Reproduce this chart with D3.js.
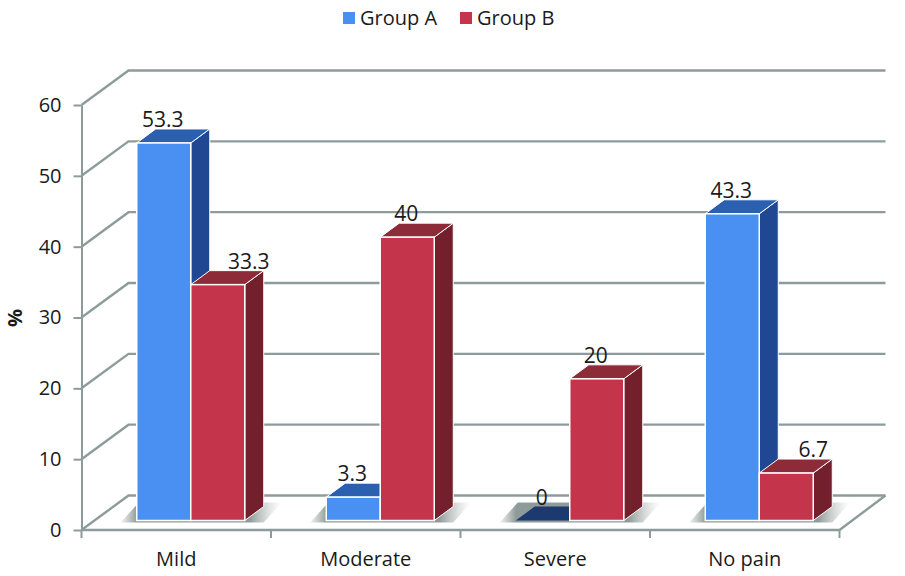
<!DOCTYPE html>
<html>
<head>
<meta charset="utf-8">
<script src="https://cdn.jsdelivr.net/npm/d3@7"></script>
<style>
  html, body { margin: 0; padding: 0; background: #fff; }
  svg { display: block; }
  text { font-family: "Open Sans", sans-serif; fill: #1a1a1a; }
</style>
</head>
<body>
<svg id="chart" width="905" height="576"></svg>
<script>
const categories = ["Mild", "Moderate", "Severe", "No pain"];
const groupA = [53.3, 3.3, 0, 43.3];
const groupB = [33.3, 40, 20, 6.7];
const yTicks = [0, 10, 20, 30, 40, 50, 60];

const svg = d3.select("#chart");

// wall / floor geometry
const left = 81.5, right = 839.5, floorY = 530, topY = 105;
const wallDx = 47, wallDy = -34.5;
// bars stand part way into the floor
const barInsetY = -9.5, barShiftX = 14.5, barDx = 19, barDy = -14, barW = 54;

const x = d3.scaleBand().domain(categories).range([left, right]);
const y = d3.scaleLinear().domain([0, 60]).range([floorY, topY]);
const barY = v => y(v) + barInsetY;

const gridColor = "#8d9c9b";

// gridlines on the side wall and back wall
yTicks.forEach(t => {
    svg.append("polyline")
        .attr("points", [[left, y(t)], [left + wallDx, y(t) + wallDy], [right + wallDx - 1, y(t) + wallDy]].join(" "))
        .attr("fill", "none")
        .attr("stroke", gridColor)
        .attr("stroke-width", 2.4);
});

// floor edges
svg.append("polyline")
    .attr("points", [[right + wallDx - 1, floorY + wallDy], [right, floorY], [left, floorY]].join(" "))
    .attr("fill", "none")
    .attr("stroke", gridColor)
    .attr("stroke-width", 2.4);

// y axis
const yAxis = svg.append("g")
    .attr("transform", `translate(${left},0)`)
    .call(d3.axisLeft(y).tickValues(yTicks).tickSize(8).tickPadding(12).tickSizeOuter(0));
yAxis.select(".domain").attr("stroke", gridColor).attr("stroke-width", 2);
yAxis.selectAll("line").attr("stroke", gridColor).attr("stroke-width", 2);
yAxis.selectAll("text").attr("font-size", 20).style("font-family", '"Open Sans", sans-serif').attr("fill", "#1a1a1a");

// x axis labels
const xAxis = svg.append("g")
    .attr("transform", `translate(0,${floorY})`)
    .call(d3.axisBottom(x).tickSize(0).tickPadding(22));
xAxis.select(".domain").remove();
xAxis.selectAll("text").attr("font-size", 20).style("font-family", '"Open Sans", sans-serif').attr("fill", "#1a1a1a");

// tick marks between the categories
d3.range(categories.length + 1).forEach(i => {
    const tx = left + i * x.bandwidth();
    svg.append("line")
        .attr("x1", tx).attr("x2", tx)
        .attr("y1", floorY).attr("y2", floorY + 8)
        .attr("stroke", gridColor)
        .attr("stroke-width", 2);
});

// soft shadow under each pair of bars
const defs = svg.append("defs");
const grad = defs.append("linearGradient").attr("id", "shadow").attr("x1", 0).attr("x2", 1).attr("y1", 0).attr("y2", 0);
grad.append("stop").attr("offset", "0%").attr("stop-color", "#a7b0ad").attr("stop-opacity", 0.2);
grad.append("stop").attr("offset", "10%").attr("stop-color", "#8f9b98");
grad.append("stop").attr("offset", "80%").attr("stop-color", "#8f9b98");
grad.append("stop").attr("offset", "100%").attr("stop-color", "#c5cbc9").attr("stop-opacity", 0);

const barLeft = c => x(c) + x.bandwidth() / 2 - barW + barShiftX;

categories.forEach(c => {
    const l = barLeft(c);
    svg.append("polygon")
        .attr("points", [
            [l - 16, barY(0) + 2], [l + 2 * barW + barDx, barY(0) + 2],
            [l + 2 * barW + barDx + 18, barY(0) - 18], [l + 2, barY(0) - 18]
        ].join(" "))
        .attr("fill", "url(#shadow)");
});

// one 3D bar: front, top and side faces
function drawBar(bx, v, col) {
    const yTop = barY(v), yBase = barY(0);
    if (v === 0) {
        svg.append("polygon")
            .attr("points", [[bx, yTop], [bx + barW, yTop], [bx + barW + barDx, yTop + barDy], [bx + barDx, yTop + barDy]].join(" "))
            .attr("fill", col.zero);
        return;
    }
    svg.append("polygon")
        .attr("points", [[bx + barW, yTop], [bx + barW + barDx, yTop + barDy], [bx + barW + barDx, yBase + barDy], [bx + barW, yBase]].join(" "))
        .attr("fill", col.side)
        .attr("stroke", "#fff").attr("stroke-width", 1);
    svg.append("polygon")
        .attr("points", [[bx, yTop], [bx + barW, yTop], [bx + barW + barDx, yTop + barDy], [bx + barDx, yTop + barDy]].join(" "))
        .attr("fill", col.top)
        .attr("stroke", "#fff").attr("stroke-width", 1);
    svg.append("rect")
        .attr("x", bx).attr("y", yTop)
        .attr("width", barW).attr("height", yBase - yTop)
        .attr("fill", col.front)
        .attr("stroke", "#fff").attr("stroke-width", 1.5);
}

const blue = { front: "#4a90f2", top: "#2b5fb0", side: "#1f4792", zero: "#1c3a70" };
const red = { front: "#c4344a", top: "#8e2b39", side: "#741f2c", zero: "#741f2c" };

categories.forEach((c, i) => {
    drawBar(barLeft(c), groupA[i], blue);
    drawBar(barLeft(c) + barW, groupB[i], red);
});

// value labels; two red ones sit to the right of their bars
const redLabelNudge = { "Mild": 32, "No pain": 28 };
function valueLabel(bx, v, nudge) {
    svg.append("text")
        .attr("x", bx + barW / 2 - 1 + nudge)
        .attr("y", barY(v) - 16)
        .attr("text-anchor", "middle")
        .attr("font-size", 21)
        .text(v);
}
categories.forEach((c, i) => {
    valueLabel(barLeft(c), groupA[i], 0);
    valueLabel(barLeft(c) + barW, groupB[i], redLabelNudge[c] || 0);
});

// axis title
svg.append("text")
    .attr("transform", "translate(22,318) rotate(-90)")
    .attr("text-anchor", "middle")
    .attr("font-size", 20)
    .attr("font-weight", 700)
    .text("%");

// legend
const legendItems = [
    { name: "Group A", color: blue.front, sx: 343, tx: 360 },
    { name: "Group B", color: red.front, sx: 460, tx: 477 }
];
legendItems.forEach(d => {
    svg.append("rect").attr("x", d.sx).attr("y", 12).attr("width", 12).attr("height", 12).attr("fill", d.color);
    svg.append("text").attr("x", d.tx).attr("y", 25).attr("font-size", 20).text(d.name);
});
</script>
</body>
</html>
